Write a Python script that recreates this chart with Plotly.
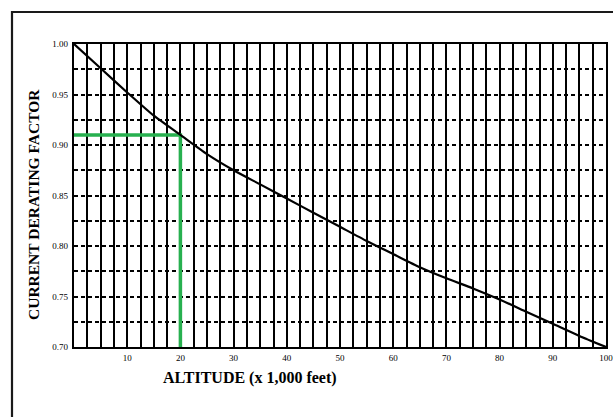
import plotly.graph_objects as go

# Altitude (thousands of feet) and the current derating factor
altitude = [0, 5, 10, 15, 20, 25, 30, 35, 40, 45, 50, 55, 60, 65, 70, 75, 80, 85, 90, 95, 100]
derating = [1.000, 0.976, 0.952, 0.929, 0.910, 0.891, 0.875, 0.861, 0.847, 0.833, 0.819,
            0.805, 0.792, 0.779, 0.768, 0.758, 0.747, 0.735, 0.723, 0.711, 0.700]

# Worked example: 20,000 ft gives a factor of 0.91
example_alt = 20
example_factor = 0.91

x_ticks = [10, 20, 30, 40, 50, 60, 70, 80, 90, 100]
y_ticks = [0.70, 0.75, 0.80, 0.85, 0.90, 0.95, 1.00]
y_tick_text = ["0.70", "0.75", "0.80", "0.85", "0.90", "0.95", "1.00"]

GREEN = "#27b04f"
SERIF = "Liberation Serif, Times New Roman, serif"

W, H = 613, 417
ML, MR, MT, MB = 74, 7, 44, 70
PW, PH = W - ML - MR, H - MT - MB


def px_x(px):
    """Horizontal pixel position -> paper coordinate."""
    return (px - ML) / PW


def px_y(py):
    """Vertical pixel position (from top) -> paper coordinate."""
    return (H - MB - py) / PH


fig = go.Figure()

# Example read-off lines
fig.add_trace(go.Scatter(
    x=[-0.4, example_alt, example_alt], y=[example_factor, example_factor, 0.698],
    mode="lines", line=dict(color=GREEN, width=3.5), hoverinfo="skip", showlegend=False,
))

# Derating curve
fig.add_trace(go.Scatter(
    x=altitude, y=derating, mode="lines",
    line=dict(color="black", width=2.2, shape="spline", smoothing=0.6),
    showlegend=False,
))

fig.update_layout(
    width=W, height=H, autosize=False,
    margin=dict(l=ML, r=MR, t=MT, b=MB, autoexpand=False),
    paper_bgcolor="white", plot_bgcolor="white",
    font=dict(family=SERIF, color="black"),
    xaxis=dict(
        range=[0, 100], tickvals=x_ticks, ticktext=[str(v) for v in x_ticks],
        tickfont=dict(size=9, family=SERIF), ticks="", ticklabelstandoff=1,
        automargin=False, ticklabeloverflow="allow",
        showgrid=True, gridcolor="black", gridwidth=1.8,
        minor=dict(dtick=2.5, tick0=0, showgrid=True, gridcolor="black", gridwidth=1.8),
        showline=True, mirror=True, linecolor="black", linewidth=2.4,
        zeroline=False, fixedrange=True,
    ),
    yaxis=dict(
        range=[0.70, 1.00], tickvals=y_ticks, ticktext=y_tick_text,
        tickfont=dict(size=9, family=SERIF), ticks="", ticklabelstandoff=2,
        automargin=False, ticklabeloverflow="allow",
        showgrid=True, gridcolor="black", gridwidth=1.6, griddash="4px,3px",
        minor=dict(dtick=0.025, tick0=0.70, showgrid=True, gridcolor="black",
                   gridwidth=1.6, griddash="4px,3px"),
        showline=True, mirror=True, linecolor="black", linewidth=2.4,
        zeroline=False, fixedrange=True,
    ),
    annotations=[
        dict(text="<b>ALTITUDE (x 1,000 feet)</b>", xref="paper", yref="paper",
             x=px_x(250), y=px_y(378), showarrow=False,
             xanchor="center", yanchor="middle", font=dict(size=16, family=SERIF)),
        dict(text="<b>CURRENT DERATING FACTOR</b>", xref="paper", yref="paper",
             x=px_x(33), y=px_y(205), showarrow=False, textangle=-90,
             xanchor="center", yanchor="middle", font=dict(size=15.5, family=SERIF)),
    ],
    shapes=[
        # outer frame: top and left edges, running off the page to the right and bottom
        dict(type="line", xref="paper", yref="paper",
             x0=px_x(11), x1=px_x(W), y0=px_y(12), y1=px_y(12),
             line=dict(color="#1a1a1a", width=2.2), layer="above"),
        dict(type="line", xref="paper", yref="paper",
             x0=px_x(12), x1=px_x(12), y0=px_y(11), y1=px_y(H),
             line=dict(color="#1a1a1a", width=2.2), layer="above"),
    ],
)

fig.write_html("out.html", config={"displayModeBar": False})
